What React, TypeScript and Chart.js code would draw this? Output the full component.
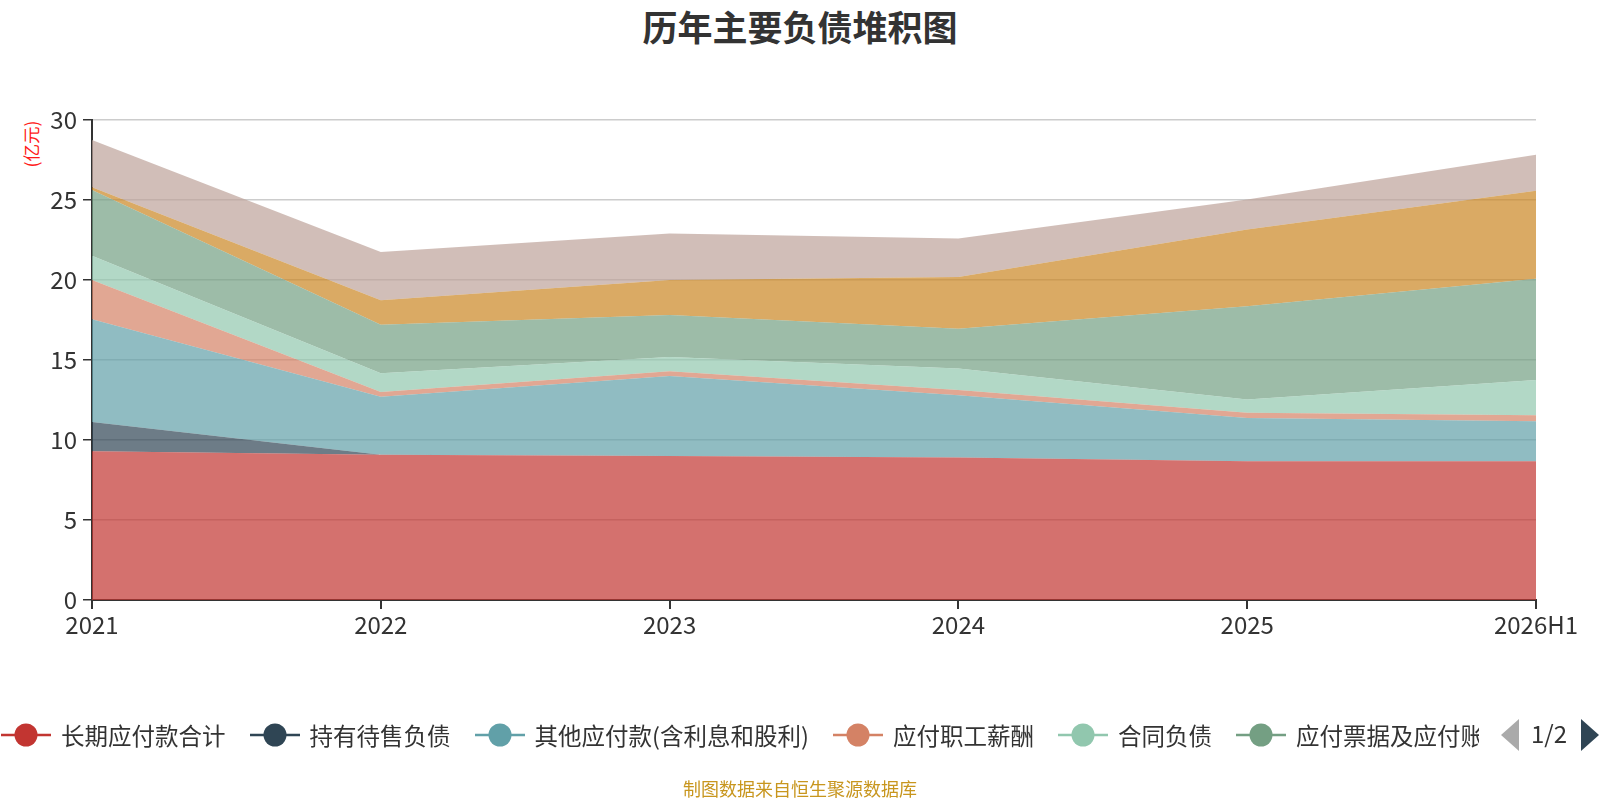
import { useEffect, useRef } from "react"
import { Chart, registerables } from "chart.js"

Chart.register(...registerables)

const years = ["2021", "2022", "2023", "2024", "2025", "2026H1"]

const seriesNames = [
  "长期应付款合计",
  "持有待售负债",
  "其他应付款(含利息和股利)",
  "应付职工薪酬",
  "合同负债",
  "应付票据及应付账款",
  "短期借款",
  "应交税费",
]

const seriesColors = ["#c23531", "#2f4554", "#61a0a8", "#d48265", "#91c7ae", "#749f83", "#ca8622", "#bda29a"]

// 亿元
const longTermPayables = [9.29, 9.08, 9.0, 8.9, 8.67, 8.67]
const heldForSaleLiabilities = [1.84, 0, 0, 0, 0, 0]
const otherPayables = [6.41, 3.63, 5.0, 3.89, 2.7, 2.5]
const payrollPayable = [2.46, 0.29, 0.29, 0.33, 0.33, 0.37]
const contractLiabilities = [1.52, 1.17, 0.9, 1.35, 0.83, 2.21]
const notesAndAccountsPayable = [4.11, 3.04, 2.62, 2.48, 5.83, 6.33]
const shortTermLoans = [0.16, 1.52, 2.19, 3.23, 4.8, 5.5]
const taxesPayable = [2.96, 3.02, 2.9, 2.41, 1.87, 2.25]

const seriesValues = [
  longTermPayables,
  heldForSaleLiabilities,
  otherPayables,
  payrollPayable,
  contractLiabilities,
  notesAndAccountsPayable,
  shortTermLoans,
  taxesPayable,
]

const yTicks = [0, 5, 10, 15, 20, 25, 30]

const FONT = '"Noto Sans CJK SC", "Noto Sans", sans-serif'

function hexToRgba(hex: string, a: number) {
  const n = parseInt(hex.slice(1), 16)
  return `rgba(${(n >> 16) & 255}, ${(n >> 8) & 255}, ${n & 255}, ${a})`
}

function LegendIcon({ color }: { color: string }) {
  return (
    <svg width="50" height="26" style={{ flex: "none" }}>
      <line x1="0" y1="13" x2="50" y2="13" stroke={color} strokeWidth="2.5" />
      <circle cx="25" cy="13" r="11.5" fill={color} />
    </svg>
  )
}

export default function App() {
  const chartRef = useRef<HTMLCanvasElement>(null)
  const chartInstance = useRef<Chart | null>(null)

  useEffect(() => {
    if (!chartRef.current) return
    if (chartInstance.current) chartInstance.current.destroy()
    const ctx = chartRef.current.getContext("2d")
    if (!ctx) return

    chartInstance.current = new Chart(ctx, {
      type: "line",
      data: {
        labels: years,
        datasets: seriesNames.map((name, i) => ({
          label: name,
          data: seriesValues[i],
          borderColor: seriesColors[i],
          backgroundColor: hexToRgba(seriesColors[i], 0.7),
          borderWidth: 0,
          pointRadius: 0,
          tension: 0,
          fill: i === 0 ? "origin" : "-1",
        })),
      },
      options: {
        animation: false,
        responsive: true,
        maintainAspectRatio: false,
        layout: { padding: { top: 120, right: 64, left: 0, bottom: 160 } },
        plugins: {
          legend: { display: false },
          title: { display: false },
          tooltip: { enabled: false },
        },
        scales: {
          x: {
            offset: false,
            grid: { display: true, drawOnChartArea: false, tickColor: "#333", tickLength: 9, lineWidth: 2 },
            border: { color: "#333", width: 2 },
            ticks: { color: "#333", font: { family: FONT, size: 24 }, padding: 1, maxRotation: 0, autoSkip: false },
            afterFit: (scale: any) => {
              scale.height = 40
            },
          },
          y: {
            stacked: true,
            min: 0,
            max: 30,
            afterBuildTicks: (scale: any) => {
              scale.ticks = yTicks.map((v) => ({ value: v }))
            },
            grid: { color: "#cccccc", lineWidth: 1.5, tickColor: "#333", tickLength: 9 },
            border: { color: "#333", width: 2 },
            ticks: { color: "#333", font: { family: FONT, size: 24 }, padding: 6 },
            afterFit: (scale: any) => {
              scale.width = 92
            },
          },
        },
      },
    })

    return () => {
      if (chartInstance.current) {
        chartInstance.current.destroy()
        chartInstance.current = null
      }
    }
  }, [])

  return (
    <div style={{ position: "absolute", left: 0, top: 0, width: 1600, height: 800, background: "#fff", fontFamily: FONT }}>
      <div
        style={{
          position: "absolute",
          left: 0,
          width: 1600,
          top: 6,
          textAlign: "center",
          fontSize: 35,
          fontWeight: "bold",
          color: "#333",
          lineHeight: "40px",
        }}
      >
        历年主要负债堆积图
      </div>
      <div
        style={{
          position: "absolute",
          left: 31,
          top: 144,
          transform: "translate(-50%, -50%) rotate(-90deg)",
          color: "#ff1a1a",
          fontSize: 17.5,
          whiteSpace: "nowrap",
          lineHeight: "20px",
        }}
      >
        (亿元)
      </div>
      <div style={{ position: "absolute", left: 0, top: 0, width: 1600, height: 800 }}>
        <canvas ref={chartRef} />
      </div>
      <div
        style={{
          position: "absolute",
          left: 1,
          top: 720,
          width: 1478,
          height: 30,
          overflow: "hidden",
          display: "flex",
          alignItems: "center",
          whiteSpace: "nowrap",
          gap: 24,
        }}
      >
        {seriesNames.map((name, i) => (
          <div key={name} style={{ display: "flex", alignItems: "center", flex: "none" }}>
            <LegendIcon color={seriesColors[i]} />
            <span style={{ marginLeft: 10, fontSize: 23.5, color: "#333", lineHeight: "30px" }}>{name}</span>
          </div>
        ))}
      </div>
      <svg width="20" height="32" style={{ position: "absolute", left: 1501, top: 719 }}>
        <polygon points="18,0 18,32 0,16" fill="#aaa" />
      </svg>
      <div style={{ position: "absolute", left: 1531, top: 718, fontSize: 24, color: "#333", lineHeight: "30px" }}>1/2</div>
      <svg width="20" height="32" style={{ position: "absolute", left: 1581, top: 719 }}>
        <polygon points="0,0 0,32 18,16" fill="#2f4554" />
      </svg>
      <div
        style={{
          position: "absolute",
          left: 0,
          width: 1600,
          top: 776,
          textAlign: "center",
          fontSize: 18,
          color: "#c8961e",
          lineHeight: "24px",
        }}
      >
        制图数据来自恒生聚源数据库
      </div>
    </div>
  )
}
